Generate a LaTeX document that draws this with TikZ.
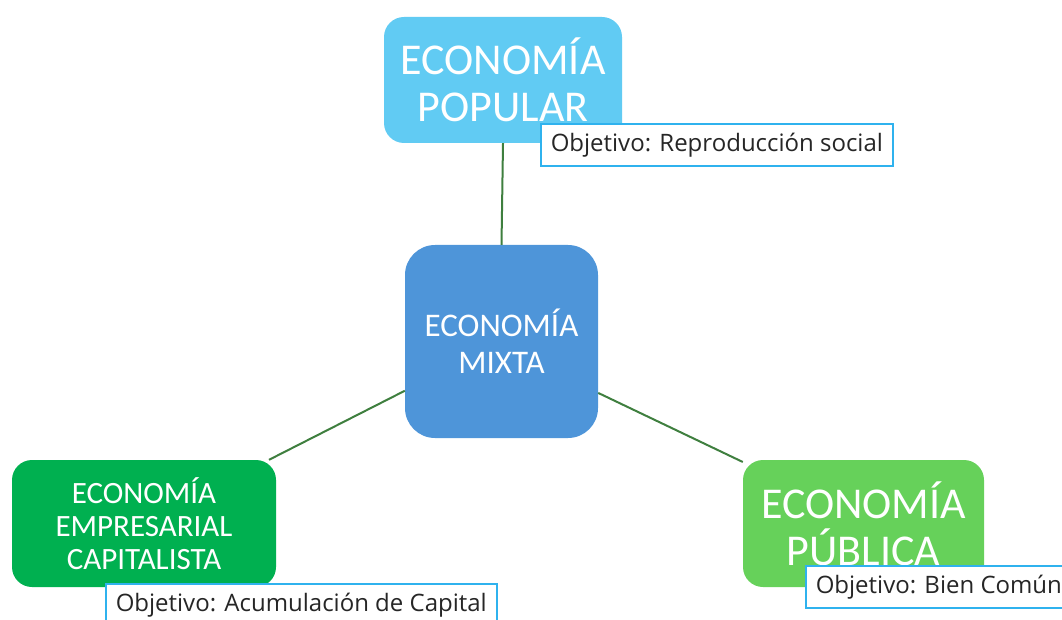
\documentclass[tikz,border=0pt]{standalone}
\usepackage{fontspec}
\setmainfont{Carlito}
\newfontfamily\notefont{Open Sans}
\definecolor{popular}{HTML}{61CBF3}
\definecolor{mixta}{HTML}{4E95D9}
\definecolor{empresa}{HTML}{00B050}
\definecolor{publica}{HTML}{66D15A}
\definecolor{enlace}{HTML}{3F7F3F}
\definecolor{borde}{HTML}{2FB2EE}
\tikzset{
  caja/.style={rounded corners=20pt, text=white, align=center, inner sep=0pt},
  objetivo/.style={draw=borde, line width=1.5pt, fill=white, anchor=west,
    minimum height=42pt, inner xsep=10pt, text=black!85, font=\notefont\fontsize{24}{28}\selectfont},
  enlace/.style={draw=enlace, line width=2pt}
}
\begin{document}
\begin{tikzpicture}[x=1pt, y=-1pt]
  \useasboundingbox (0,0) rectangle (1062,620);

  \node[caja, fill=popular, minimum width=238pt, minimum height=126pt,
    font=\fontsize{44}{47}\selectfont] (popular) at (503,80) {ECONOMÍA\\POPULAR};
  \node[caja, fill=mixta, rounded corners=30pt, minimum width=193pt, minimum height=193pt,
    font=\fontsize{33}{37}\selectfont] (mixta) at (501.5,341.5) {ECONOMÍA\\MIXTA};
  \node[caja, fill=empresa, minimum width=264pt, minimum height=127pt,
    font=\fontsize{31}{33}\selectfont] (empresa) at (144,523.5) {ECONOMÍA\\EMPRESARIAL\\CAPITALISTA};
  \node[caja, fill=publica, minimum width=241pt, minimum height=127pt,
    font=\fontsize{44}{47}\selectfont] (publica) at (863.5,523.5) {ECONOMÍA\\PÚBLICA};

  \node[objetivo] (objpopular) at (540,145) {Objetivo: Reproducción social};
  \node[objetivo] (objempresa) at (105,605) {Objetivo: Acumulación de Capital};
  \node[objetivo] (objpublica) at (805,587) {Objetivo: Bien Común};

  \draw[enlace] (popular.south) -- (mixta.north);
  \draw[enlace] (mixta.207.6) -- (empresa.27.1);
  \draw[enlace] (mixta.332.4) -- (publica.153.2);
\end{tikzpicture}
\end{document}
